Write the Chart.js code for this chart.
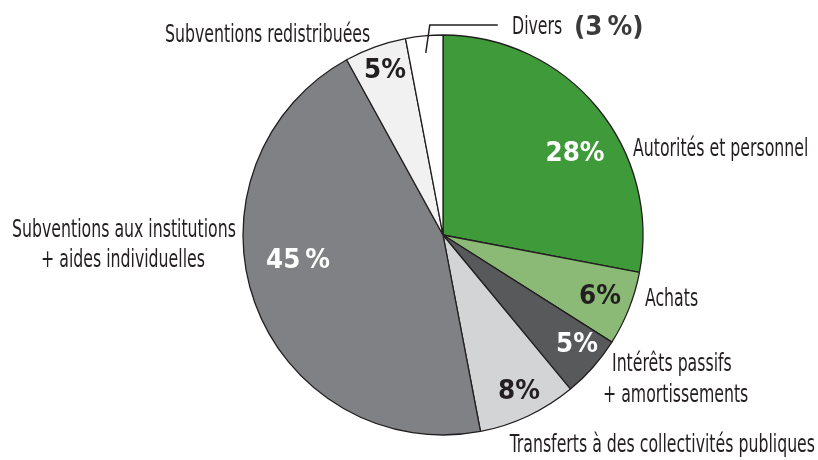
<!DOCTYPE html>
<html>
<head>
<meta charset="utf-8">
<script src="https://cdn.jsdelivr.net/npm/chart.js@4"></script>
<style>
  html, body { margin: 0; padding: 0; background: #fff; }
  #chart { display: block; }
</style>
</head>
<body>
<canvas id="chart" width="818" height="460"></canvas>
<script>
const categories = [
  'Autorités et personnel',
  'Achats',
  'Intérêts passifs + amortissements',
  'Transferts à des collectivités publiques',
  'Subventions aux institutions + aides individuelles',
  'Subventions redistribuées',
  'Divers',
];
const shares = [28, 6, 5, 8, 45, 5, 3];
const sliceColors = ['#3f9a3a', '#8aba76', '#58595b', '#d3d4d6', '#808184', '#f1f1f2', '#ffffff'];
const pctColors = ['#ffffff', '#231f20', '#ffffff', '#231f20', '#ffffff', '#231f20', '#3a3a3a'];

const NARROW = '"Liberation Sans Narrow", "DejaVu Sans Condensed", sans-serif';
const BOLD = '"DejaVu Sans", sans-serif';

function drawText(ctx, text, x, y, align, font, color, sx) {
  ctx.save();
  ctx.font = font;
  ctx.fillStyle = color;
  ctx.textBaseline = 'alphabetic';
  const w = ctx.measureText(text).width * sx;
  let left = x;
  if (align === 'right') left = x - w;
  if (align === 'center') left = x - w / 2;
  ctx.translate(left, y);
  ctx.scale(sx, 1);
  ctx.textAlign = 'left';
  ctx.fillText(text, 0, 0);
  ctx.restore();
}

const pct = (v) => (v >= 10 && v < 50 && v !== 28 ? v + '\u202f%' : v + '%');

const labelPlugin = {
  id: 'pieLabels',
  afterDraw(chart) {
    const ctx = chart.ctx;
    const arcs = chart.getDatasetMeta(0).data;
    const cx = arcs[0].x;
    const cy = arcs[0].y;
    const r = arcs[0].outerRadius;
    const lab = '25px ' + NARROW;
    const big = 'bold 26px ' + BOLD;
    const ink = '#231f20';
    const sx = 0.7;

    // outside labels
    drawText(ctx, 'Subventions redistribuées', 165, 42, 'left', lab, ink, sx);
    drawText(ctx, 'Divers', 512, 34, 'left', lab, ink, sx);
    drawText(ctx, '(' + shares[6] + '\u202f%)', 574, 35, 'left', big, pctColors[6], 0.95);
    drawText(ctx, 'Autorités et personnel', 633, 156, 'left', lab, ink, sx);
    drawText(ctx, 'Achats', 645, 306, 'left', lab, ink, sx);
    drawText(ctx, 'Intérêts passifs', 612, 371, 'left', lab, ink, sx);
    drawText(ctx, '+ amortissements', 603, 402, 'left', lab, ink, sx);
    drawText(ctx, 'Transferts à des collectivités publiques', 815, 452, 'right', lab, ink, sx);
    drawText(ctx, 'Subventions aux institutions', 124, 237, 'center', lab, ink, sx);
    drawText(ctx, '+ aides individuelles', 123, 267, 'center', lab, ink, sx);

    // percentages inside slices
    const pos = [[575, 161], [600, 304], [577, 352], [519, 399], [298, 268], [385, 78]];
    pos.forEach((p, i) => {
      drawText(ctx, pct(shares[i]), p[0], p[1], 'center', big, pctColors[i], 0.95);
    });

    // leader line for Divers
    const d = arcs[6];
    const mid = (d.startAngle + d.endAngle) / 2;
    const sxp = cx + Math.cos(mid) * r * 0.915;
    const syp = cy + Math.sin(mid) * r * 0.915;
    ctx.save();
    ctx.strokeStyle = ink;
    ctx.lineWidth = 1.5;
    ctx.beginPath();
    ctx.moveTo(sxp, syp);
    ctx.lineTo(sxp + 4, cy - r - 10);
    ctx.lineTo(sxp + 72, cy - r - 10);
    ctx.stroke();
    ctx.restore();
  },
};

new Chart(document.getElementById('chart'), {
  type: 'pie',
  data: {
    labels: categories,
    datasets: [
      {
        data: shares,
        backgroundColor: sliceColors,
        borderColor: '#231f20',
        borderWidth: 1.3,
      },
    ],
  },
  options: {
    responsive: false,
    animation: false,
    radius: 200,
    layout: {
      padding: { left: 243, right: 175, top: 35, bottom: 25 },
    },
    plugins: {
      legend: { display: false },
      tooltip: { enabled: false },
    },
  },
  plugins: [labelPlugin],
});
</script>
</body>
</html>
